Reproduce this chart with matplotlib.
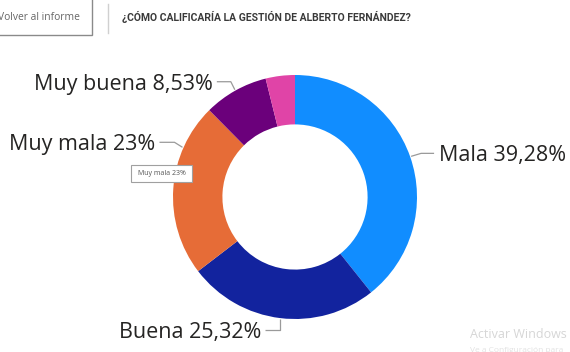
import matplotlib
matplotlib.use("Agg")
import matplotlib.pyplot as plt
import numpy as np
from matplotlib.patches import Rectangle

categories = ["Mala", "Buena", "Muy mala", "Muy buena", "Regular"]
values = [39.28, 25.32, 23.00, 8.53, 3.87]
value_labels = ["39,28%", "25,32%", "23%", "8,53%", ""]
colors = ["#118DFF", "#12239E", "#E66C37", "#6B007B", "#E044A7"]
title = "¿CÓMO CALIFICARÍA LA GESTIÓN DE ALBERTO FERNÁNDEZ?"

W, H = 570, 352
fig = plt.figure(figsize=(W / 100, H / 100), dpi=100)
ax = fig.add_axes([0, 0, 1, 1])

cx, cy, R = 295, H - 197, 122
wedges, _ = ax.pie(values, colors=colors, startangle=90, counterclock=False,
                   center=(cx, cy), radius=R,
                   wedgeprops=dict(width=R * 0.405, edgecolor="none"))
ax.set_xlim(0, W)
ax.set_ylim(0, H)
ax.set_aspect("equal")
ax.axis("off")

font = "Open Sans"
lc = "#9a9a9a"
style = {
    "Mala": dict(frac=0.5, pts=[(10, 3), (13, 0)], ha="left"),
    "Buena": dict(frac=0.5, pts=[(0, -11), (-15, 0)], ha="right"),
    "Muy mala": dict(frac=0.74, pts=[(-8, 5), (-15, 0)], ha="right"),
    "Muy buena": dict(frac=0.5, pts=[(-4, 8), (-14, 0)], ha="right"),
}
for w, cat, vl in zip(wedges, categories, value_labels):
    if cat not in style:
        continue
    s = style[cat]
    ang = np.deg2rad(w.theta1 + (w.theta2 - w.theta1) * (1 - s["frac"]))
    x, y = cx + (R + 1) * np.cos(ang), cy + (R + 1) * np.sin(ang)
    xs, ys = [x], [y]
    for dx, dy in s["pts"]:
        xs.append(xs[-1] + dx)
        ys.append(ys[-1] + dy)
    ax.plot(xs, ys, color=lc, lw=0.9, solid_capstyle="butt")
    tx = xs[-1] + (5 if s["ha"] == "left" else -4)
    ax.text(tx, ys[-1] - 8, f"{cat} {vl}", ha=s["ha"], va="baseline",
            fontsize=15.5, family=font, color="#252423")

# header
ax.add_patch(Rectangle((-2, H - 35), 94, 37, fill=False, edgecolor="#8a8a8a", lw=1))
ax.text(80, H - 18, "Volver al informe", ha="right", va="center",
        fontsize=7.4, family=font, color="#666666")
ax.plot([108, 108], [H - 4, H - 33], color="#d0d0d0", lw=1)
ax.text(122, H - 17, title, ha="left", va="center", fontsize=7.5,
        family="Roboto", fontweight="bold", color="#3a3a3a")

# tooltip
ax.add_patch(Rectangle((131, H - 182), 61, 17, facecolor="white",
                       edgecolor="#a0a0a0", lw=0.8))
ax.text(161.5, H - 173.5, "Muy mala 23%", ha="center", va="center",
        fontsize=5, family=font, color="#555555")

# watermark
ax.text(470, H - 335, "Activar Windows", ha="left", va="center",
        fontsize=9, family=font, color="#d6d6d6")
ax.text(470, H - 350, "Ve a Configuración para", ha="left", va="center",
        fontsize=6, family=font, color="#e2e2e2")

fig.savefig("out.png", dpi=100, facecolor="white")
